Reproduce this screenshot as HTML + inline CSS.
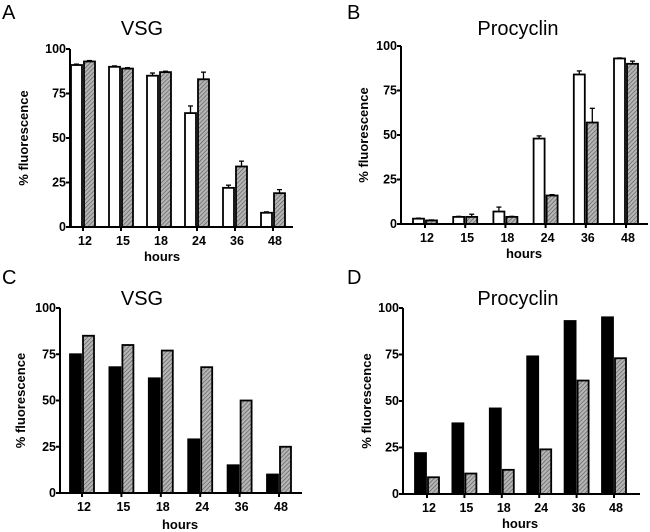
<!DOCTYPE html>
<html><head><meta charset="utf-8"><style>
body{margin:0;background:#fff}
svg{display:block}
text{font-family:"Liberation Sans",Arial,sans-serif}
.t{font-weight:bold;font-size:12.5px}
.at{font-weight:bold;font-size:13px}
</style></head><body>
<svg id="s" width="650" height="532" viewBox="0 0 650 532">
<defs>
<pattern id="hatch" width="3" height="3" patternUnits="userSpaceOnUse" patternTransform="rotate(45)">
<rect width="3" height="3" fill="#b5b5b5"/><line x1="0" y1="0" x2="0" y2="3" stroke="#555" stroke-width="1.2"/>
</pattern>
</defs>
</svg>
<script>
const categories=["12","15","18","24","36","48"];
const yTicks=[0,25,50,75,100];
const aWhite=[91,90,85,64,22,8];
const aWhiteErr=[0.5,0.5,1.5,4,1.5,0.5];
const aGray=[93,89,87,83,34,19];
const aGrayErr=[0.5,0.5,0.5,4,3,2];
const bWhite=[3,4,7,48,84,93];
const bWhiteErr=[0.3,0.3,2.5,1.5,2,0.3];
const bGray=[2,4,4,16,57,90];
const bGrayErr=[0.3,1.5,0.3,0.5,8,1.5];
const cBlack=[75,68,62,29,15,10];
const cGray=[85,80,77,68,50,25];
const dBlack=[22,38,46,74,93,95];
const dGray=[9,11,13,24,61,73];

const svg=document.getElementById('s');
const NS='http://www.w3.org/2000/svg';
function mk(tag,attrs,parent,txt){const e=document.createElementNS(NS,tag);for(const k in attrs)e.setAttribute(k,attrs[k]);if(txt!==undefined)e.textContent=txt;(parent||svg).appendChild(e);return e;}

function panel(p){
  const g=mk('g',{});
  
  
  const y=v=>p.y0-(p.y0-p.y100)*v/100;
  const x=i=>p.c0+(p.c5-p.c0)*i/5;
  const pl=mk('text',{x:p.lx,y:p.ly,'font-size':20},g,p.letter);
  
  const tt=mk('text',{x:p.tx,y:p.ty,'font-size':20,'text-anchor':'middle'},g,p.title);
  
  const series=[[p.s1,p.e1,p.f1,-1],[p.s2,p.e2,'url(#hatch)',1]];
  series.forEach((s,si)=>{
    s[0].forEach((v,i)=>{
      const cx=x(i);const w=11;const bx=s[3]<0?cx-w-1:cx+1;
      if(s[1]){const ey=y(v+s[1][i]);
        const el=mk('line',{x1:bx+w/2,x2:bx+w/2,y1:y(v),y2:ey,stroke:'#000','stroke-width':1.3},g);
        
        const c=mk('line',{x1:bx+w/2-2.5,x2:bx+w/2+2.5,y1:ey,y2:ey,stroke:'#000','stroke-width':1.3},g);
        }
      const r=mk('rect',{x:bx,y:y(v),width:w,height:p.y0-y(v),fill:s[2],stroke:'#000','stroke-width':1.8},g);
      
      
    });
  });
  const ya=mk('line',{x1:p.ax,x2:p.ax,y1:p.y100,y2:p.y0,stroke:'#000','stroke-width':2},g);
  
  const xa=mk('line',{x1:p.ax,x2:p.xe,y1:p.y0,y2:p.y0,stroke:'#000','stroke-width':2},g);
  
  yTicks.forEach(t=>{
    const tk=mk('line',{x1:p.ax-4,x2:p.ax,y1:y(t),y2:y(t),stroke:'#000','stroke-width':2},g);
    
    const tl=mk('text',{x:p.ax-4,y:y(t)+4,'text-anchor':'end',class:'t'},g,String(t));
    
  });
  categories.forEach((c,i)=>{
    const tk=mk('line',{x1:x(i),x2:x(i),y1:p.y0,y2:p.y0+4,stroke:'#000','stroke-width':2},g);
    
    const tl=mk('text',{x:x(i)+2,y:p.xly,'text-anchor':'middle',class:'t'},g,c);
    
  });
  const xt=mk('text',{x:p.hx,y:p.hy,'text-anchor':'middle',class:'at'},g,'hours');
  
  const yt=mk('text',{x:0,y:0,'text-anchor':'middle',class:'at',transform:`translate(${p.ylx},${(p.y0+p.y100)/2}) rotate(-90)`},g,'% fluorescence');
  
}
panel({letter:'A',lx:2,ly:19,title:'VSG',tx:142,ty:35,ax:70,xe:293,y0:227,y100:49,c0:83,c5:273,xly:245,hx:162,hy:261,ylx:28,s1:aWhite,e1:aWhiteErr,f1:'#fff',s2:aGray,e2:aGrayErr});
panel({letter:'B',lx:347,ly:19,title:'Procyclin',tx:518,ty:35,ax:401,xe:648,y0:224,y100:46,c0:425,c5:626,xly:242,hx:524,hy:258,ylx:368,s1:bWhite,e1:bWhiteErr,f1:'#fff',s2:bGray,e2:bGrayErr});
panel({letter:'C',lx:2,ly:284,title:'VSG',tx:142,ty:305,ax:60,xe:302,y0:493,y100:308,c0:82,c5:279,xly:511,hx:180,hy:529,ylx:25,s1:cBlack,e1:null,f1:'#000',s2:cGray,e2:null});
panel({letter:'D',lx:347,ly:284,title:'Procyclin',tx:518,ty:305,ax:403,xe:640,y0:494,y100:308,c0:427,c5:614,xly:512,hx:520,hy:528,ylx:371,s1:dBlack,e1:null,f1:'#000',s2:dGray,e2:null});
</script>
</body></html>
